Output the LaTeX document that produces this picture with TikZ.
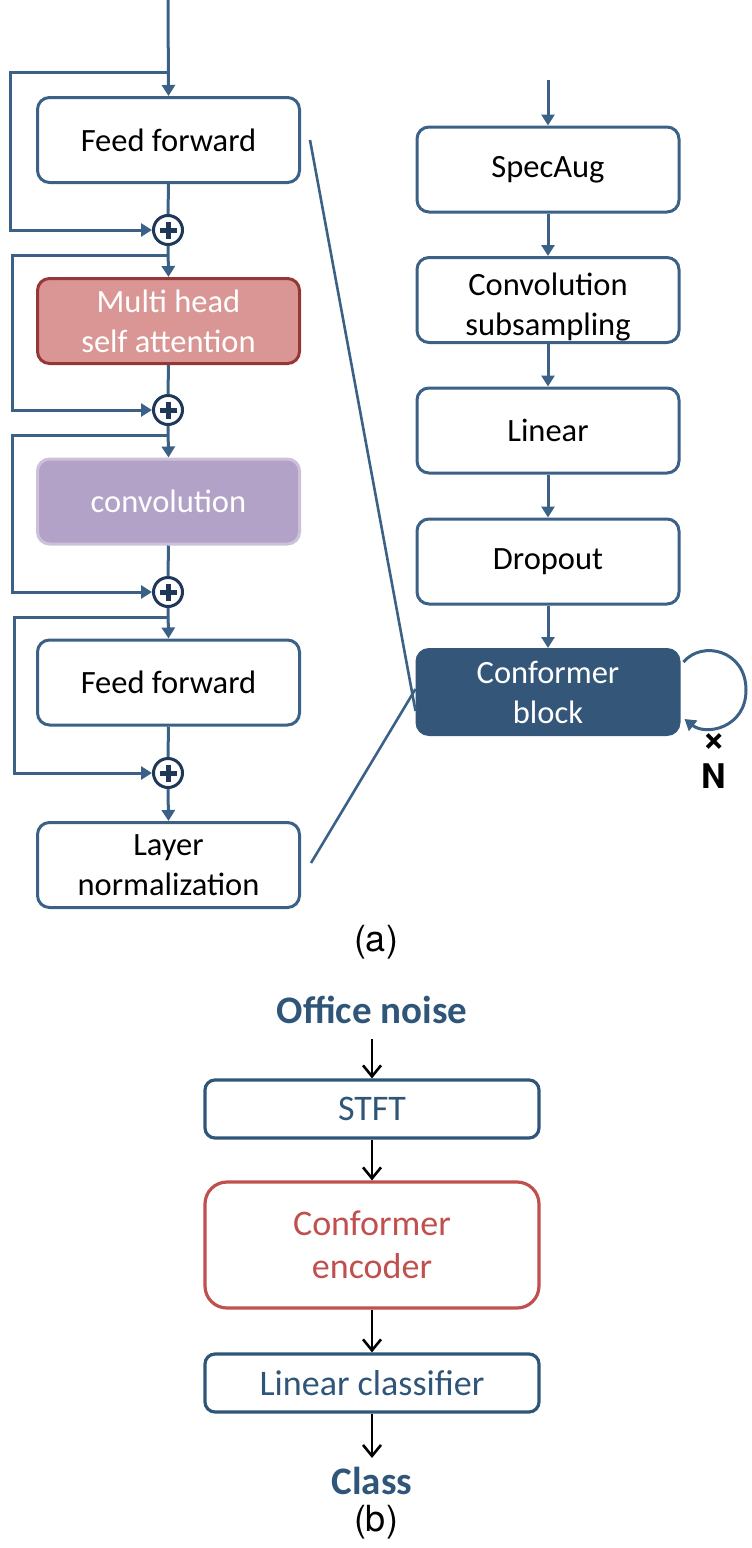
\documentclass[tikz,border=0pt]{standalone}
\usepackage{fontspec}
\setmainfont{Carlito}
\newfontfamily\helv{TeX Gyre Heros}
\usetikzlibrary{arrows.meta}
\definecolor{lineblue}{HTML}{3B6186}
\definecolor{navy}{HTML}{1F3857}
\definecolor{mhsafill}{HTML}{D99694}
\definecolor{mhsaborder}{HTML}{953735}
\definecolor{convfill}{HTML}{B3A2C7}
\definecolor{convborder}{HTML}{CCC1DA}
\definecolor{cbfill}{HTML}{335679}
\definecolor{bblue}{HTML}{2F5679}
\definecolor{bred}{HTML}{C0504D}
\begin{document}
\begin{tikzpicture}[x=1pt,y=-1pt,
  box/.style={draw=lineblue, line width=3pt, rounded corners=12pt, minimum width=262pt,
    minimum height=85pt, inner sep=0pt, align=center, font=\fontsize{32.5}{40}\selectfont, fill=white},
  plain/.style={draw=lineblue, line width=3pt},
  conn/.style={plain, -{Triangle[length=11pt,width=13pt]}},
  plusnode/.style={circle, draw=navy, line width=3pt, fill=white, minimum size=29pt, inner sep=0pt,
    path picture={\draw[navy, line width=5pt] ([xshift=-8.5pt]path picture bounding box.center) -- ([xshift=8.5pt]path picture bounding box.center);
      \draw[navy, line width=5pt] ([yshift=-8.5pt]path picture bounding box.center) -- ([yshift=8.5pt]path picture bounding box.center);}},
  bbox/.style={draw=bblue, line width=3.2pt, rounded corners=10pt, minimum width=334pt, minimum height=58pt,
    inner sep=0pt, align=center, text=bblue, font=\fontsize{36}{43}\selectfont},
  btitle/.style={inner sep=0pt, text=bblue, font=\fontsize{39}{44}\selectfont\bfseries},
  barrow/.style={draw=black, line width=2.6pt, -{Straight Barb[length=11pt,width=18pt,line width=2.6pt]}},
  caplabel/.style={inner sep=0pt, font=\helv\fontsize{36}{40}\selectfont}
]
\useasboundingbox (0,0) rectangle (752,1548);

% ---------- left column ----------
\node[box] (ff1) at (168.5,140) {Feed forward};
\node[plusnode] (p1) at (168,230) {};
\node[box, fill=mhsafill, draw=mhsaborder, text=white] (mhsa) at (168.5,321) {Multi head\\self attention};
\node[plusnode] (p2) at (168,410) {};
\node[box, fill=convfill, draw=convborder, text=white] (conv) at (168.5,501.5) {convolution};
\node[plusnode] (p3) at (168,592) {};
\node[box] (ff2) at (168.5,682.5) {Feed forward};
\node[plusnode] (p4) at (168,773) {};
\node[box] (ln) at (168.5,865) {Layer\\normalization};

\coordinate (top) at (168,0);
\coordinate (j1) at (168,72);
\coordinate (j2) at (168,255);
\coordinate (j3) at (168,435);
\coordinate (j4) at (168,617);

\draw[conn] (top) -- (ff1.north);
\draw[conn] (j1) -- ++(-158,0) |- (p1.west);
\draw[plain] (ff1.south) -- (p1.north);
\draw[conn] (p1.south) -- (mhsa.north);
\draw[conn] (j2) -- ++(-156,0) |- (p2.west);
\draw[plain] (mhsa.south) -- (p2.north);
\draw[conn] (p2.south) -- (conv.north);
\draw[conn] (j3) -- ++(-156,0) |- (p3.west);
\draw[plain] (conv.south) -- (p3.north);
\draw[conn] (p3.south) -- (ff2.north);
\draw[conn] (j4) -- ++(-154,0) |- (p4.west);
\draw[plain] (ff2.south) -- (p4.north);
\draw[conn] (p4.south) -- (ln.north);

% ---------- right column ----------
\node[box] (spec) at (548,169.5) {SpecAug};
\node[box, label={[inner sep=0pt, align=center, font=\fontsize{32.5}{40}\selectfont, yshift=-7pt]center:Convolution\\subsampling}] (csub) at (548,300) {};
\node[box] (lin) at (548,430.5) {Linear};
\node[box] (drop) at (548,561.5) {Dropout};
\node[box, fill=cbfill, draw=cbfill, text=white] (cb) at (548,692) {Conformer\\block};

\coordinate (rtop) at (548,80);
\draw[conn] (rtop) -- (spec.north);
\draw[conn] (spec.south) -- (csub.north);
\draw[conn] (csub.south) -- (lin.north);
\draw[conn] (lin.south) -- (drop.north);
\draw[conn] (drop.south) -- (cb.north);

\draw[conn] ([shift={(3,-30)}]cb.east) .. controls (702,640) and (746,650) .. (746,690)
  .. controls (746,728) and (706,736) .. ([shift={(4,27)}]cb.east);
\node[inner sep=0pt, font=\helv\bfseries\fontsize{40}{40}\selectfont] (times) at (714,743) {×};
\node[inner sep=0pt, font=\helv\bfseries\fontsize{34}{34}\selectfont] (nlab) at (714,776) {N};

% zoom lines
\draw[plain, line width=2.6pt] ([xshift=9pt]ff1.east) -- ([yshift=-19]cb.west);
\draw[plain, line width=2.6pt] ([yshift=3]cb.west) -- ([shift={(10,-2)}]ln.east);

\node[caplabel] (alab) at (376,942) {(a)};

% ---------- part (b) ----------
\node[btitle] (office) at (372,1010) {Office noise};
\node[bbox] (stft) at (372,1109) {STFT};
\node[bbox, draw=bred, text=bred, minimum height=126pt, rounded corners=22pt] (enc) at (372,1245) {Conformer\\encoder};
\node[bbox] (lc) at (372,1383) {Linear classifier};
\node[btitle] (cls) at (372,1481) {Class};
\node[caplabel] (blab) at (376,1522) {(b)};

\draw[barrow, shorten <=15pt] (office.south) -- (stft.north);
\draw[barrow] (stft.south) -- (enc.north);
\draw[barrow] (enc.south) -- (lc.north);
\draw[barrow, shorten >=9pt] (lc.south) -- (cls.north);
\end{tikzpicture}
\end{document}
